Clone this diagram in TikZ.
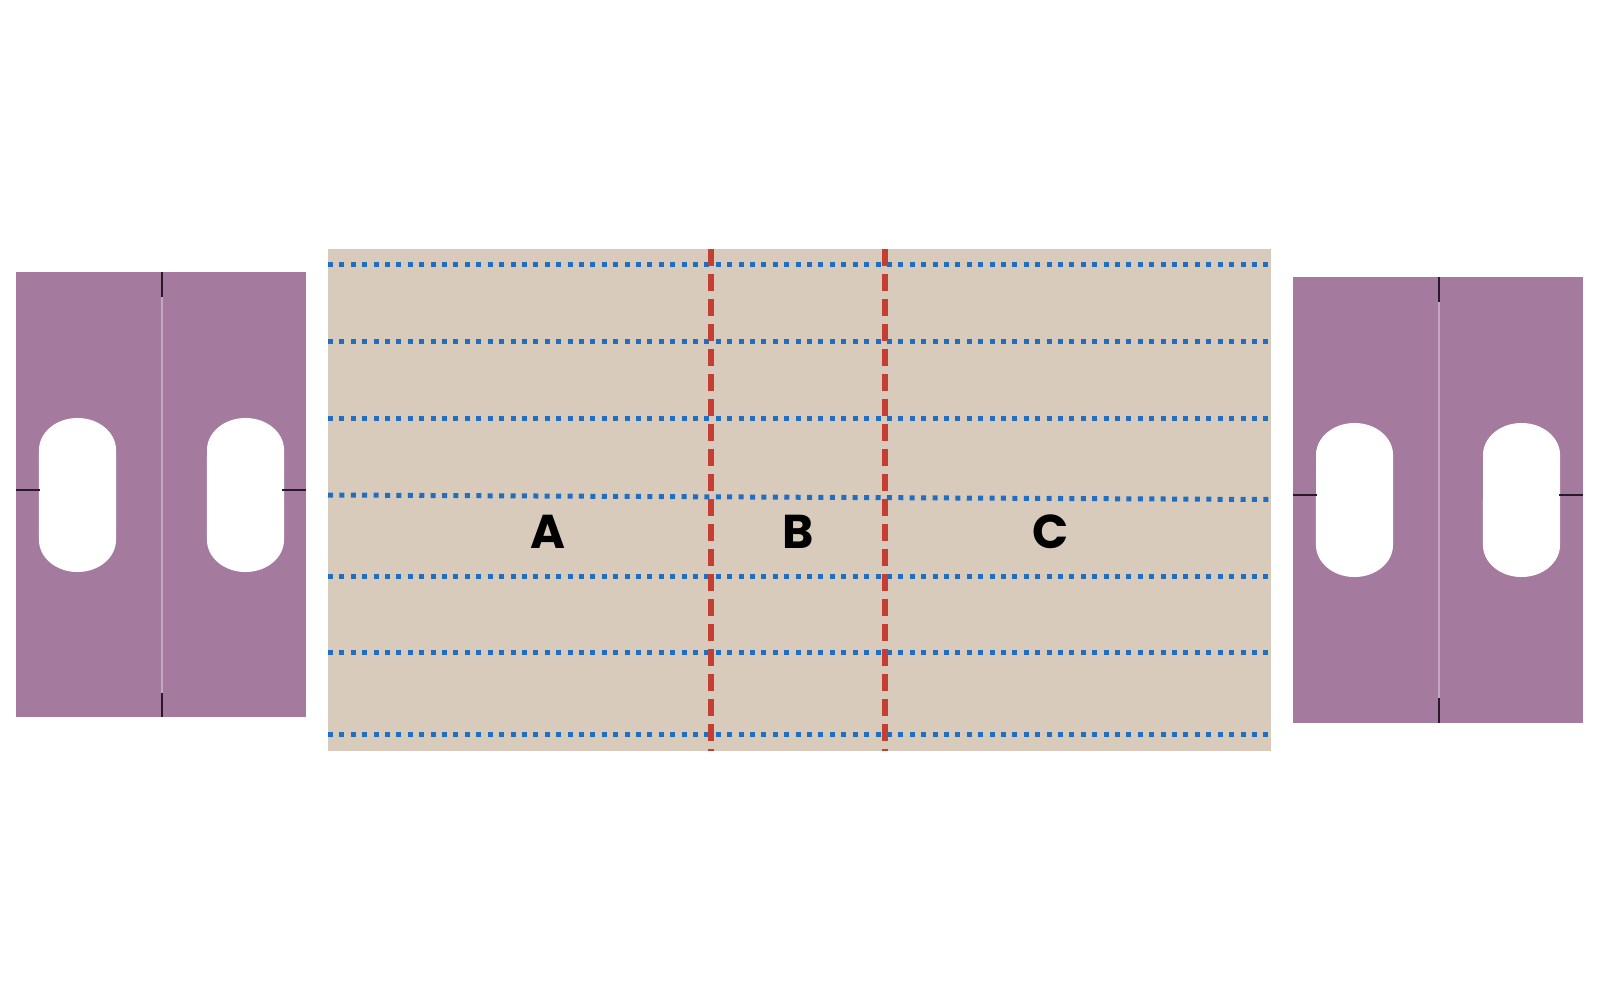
\documentclass[tikz,border=0pt]{standalone}
\usepackage{fontspec}
\newfontfamily\popf{Poppins}
\definecolor{panelpurple}{RGB}{164,122,159}
\definecolor{foldline}{RGB}{196,166,194}
\definecolor{tickdark}{RGB}{40,26,40}
\definecolor{beige}{RGB}{217,203,188}
\definecolor{dotblue}{RGB}{30,110,195}
\definecolor{dashred}{RGB}{196,62,52}
\tikzset{
  panel/.style={fill=panelpurple},
  holefill/.style={fill=white},
  fold/.style={draw=foldline,line width=0.012cm},
  tick/.style={draw=tickdark,line width=0.015cm},
  dotline/.style={draw=dotblue,line width=0.05cm,dash pattern=on 0.05cm off 0.064cm},
  dashline/.style={draw=dashred,line width=0.055cm,dash pattern=on 0.17cm off 0.08cm},
  letter/.style={font=\popf\bfseries\fontsize{13.5}{16}\selectfont,text=black,inner sep=0pt}
}
\newcommand{\slothole}[3]{%
  \fill[holefill] (#1,#2+32) arc[start angle=180,end angle=0,x radius=0.385cm,y radius=0.32cm]
    -- (#1+77,#3-32) arc[start angle=0,end angle=-180,x radius=0.385cm,y radius=0.32cm] -- cycle;}
\begin{document}
\begin{tikzpicture}[x=0.01cm,y=-0.01cm]
\useasboundingbox[fill=white] (0,0) rectangle (1600,1000);
% left panel
\fill[panel] (16,272) rectangle (306,717);
\draw[fold] (162,272) -- (162,717);
\slothole{39}{418}{572}
\slothole{207}{418}{572}
\draw[tick] (16,490) -- (40,490);
\draw[tick] (282,490) -- (306,490);
\draw[tick] (162,272) -- (162,297);
\draw[tick] (162,693) -- (162,717);
% right panel
\fill[panel] (1293,277) rectangle (1583,723);
\draw[fold] (1439,277) -- (1439,723);
\slothole{1316}{423}{577}
\slothole{1483}{423}{577}
\draw[tick] (1293,495) -- (1317,495);
\draw[tick] (1559,495) -- (1583,495);
\draw[tick] (1439,277) -- (1439,302);
\draw[tick] (1439,698) -- (1439,723);
% main sheet
\fill[beige] (328,249) rectangle (1271,751);
\foreach \yy in {264,341,418,576,652,734}{
  \draw[dotline] (328,\yy) -- (1271,\yy);
}
\draw[dotline] (328,495) -- (1271,499.5);
\draw[dashline] (711,249) -- (711,751);
\draw[dashline] (885,249) -- (885,751);
\node[letter] (la) at (548,532) {A};
\node[letter] (lb) at (798,532) {B};
\node[letter] (lc) at (1051,532) {C};
\end{tikzpicture}
\end{document}
